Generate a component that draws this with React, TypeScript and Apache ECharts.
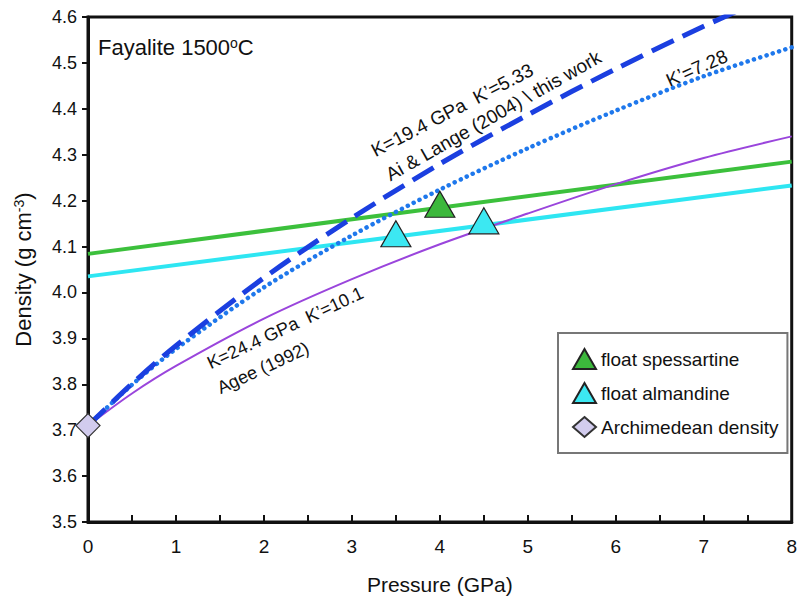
import React, { useEffect, useRef } from "react";
import * as echarts from "echarts";

// Pressure grid (GPa) for the equation-of-state curves
const curveP = [0, 0.5, 1, 2, 3, 4, 5, 6, 7, 8];
// K=19.4 GPa K'=5.33 (Ai & Lange 2004 / this work) - dashed
const aiLangeRho = [3.71, 3.801, 3.884, 4.032, 4.162, 4.28, 4.387, 4.487, 4.58, 4.665];
// K'=7.28 - dotted
const kp728Rho = [3.71, 3.799, 3.877, 4.011, 4.124, 4.224, 4.314, 4.396, 4.471, 4.534];
// K=24.4 GPa K'=10.1 (Agee 1992) - thin purple
const ageeRho = [3.71, 3.78, 3.84, 3.943, 4.029, 4.105, 4.172, 4.236, 4.293, 4.34];

// Garnet density lines
const lineP = [0, 8];
const spessartineRho = [4.084, 4.285];
const almandineRho = [4.035, 4.233];

// Markers
const spessartinePts = [[4.0, 4.192]];
const almandinePts = [[3.5, 4.128], [4.5, 4.156]];
const archimedeanPts = [[0, 3.71]];

const FONT = "'Liberation Sans', Arial, sans-serif";

const pair = (xs: number[], ys: number[]) => xs.map((x, i) => [x, ys[i]]);

export default function App() {
  const ref = useRef<HTMLDivElement>(null);
  useEffect(() => {
    if (!ref.current) return;
    const chart = echarts.init(ref.current, null, { renderer: "svg" });
    const rot = (deg: number) => (deg * Math.PI) / 180;
    const annText = (text: string, x: number, y: number, deg: number, size: number) => ({
      type: "text",
      x,
      y,
      rotation: rot(deg),
      style: {
        text,
        fontSize: size,
        fontFamily: FONT,
        fill: "#111",
        align: "left",
        verticalAlign: "bottom",
      },
    });
    const option: any = {
      animation: false,
      backgroundColor: "#fff",
      textStyle: { fontFamily: FONT },
      title: {
        text: "Fayalite 1500{sup|o}C",
        left: 93,
        top: 31,
        textStyle: {
          fontSize: 22,
          fontWeight: "normal",
          color: "#111",
          fontFamily: FONT,
          rich: {
            sup: { fontSize: 14, verticalAlign: "top", lineHeight: 14, padding: [0, 0, 10, 0], fontFamily: FONT, color: "#111" },
          },
        },
      },
      grid: {
        left: 88,
        right: 7,
        top: 17,
        bottom: 79,
        show: true,
        borderColor: "#111",
        borderWidth: 3,
      },
      legend: {
        orient: "vertical",
        left: 558,
        top: 333,
        data: ["float spessartine", "float almandine", "Archimedean density"],
        itemWidth: 23,
        itemHeight: 20,
        itemGap: 12,
        padding: [15, 9, 15, 14],
        borderColor: "#777",
        borderWidth: 2,
        borderRadius: 0,
        backgroundColor: "#fff",
        textStyle: { fontSize: 19, color: "#111", fontFamily: FONT },
      },
      xAxis: {
        type: "value",
        min: 0,
        max: 8,
        interval: 0.5,
        name: "Pressure (GPa)",
        nameLocation: "middle",
        nameGap: 52,
        nameTextStyle: { fontSize: 21, color: "#111", fontFamily: FONT },
        axisLine: { lineStyle: { color: "#111", width: 3 } },
        axisTick: { inside: true, length: 7, lineStyle: { color: "#111", width: 2 } },
        axisLabel: {
          formatter: (v: number) => (Number.isInteger(v) ? String(v) : ""),
          fontSize: 19,
          color: "#111",
          margin: 15,
          fontFamily: FONT,
        },
        splitLine: { show: false },
      },
      yAxis: {
        type: "value",
        min: 3.5,
        max: 4.6,
        interval: 0.1,
        name: "Density (g cm{sup|-3})",
        nameLocation: "middle",
        nameGap: 54,
        nameTextStyle: {
          fontSize: 22,
          color: "#111",
          fontFamily: FONT,
          rich: {
            sup: { fontSize: 14, verticalAlign: "top", lineHeight: 14, padding: [0, 0, 9, 0], color: "#111", fontFamily: FONT },
          },
        },
        axisLine: { lineStyle: { color: "#111", width: 3 } },
        axisTick: { inside: false, length: 6, lineStyle: { color: "#111", width: 2 } },
        axisLabel: {
          formatter: (v: number) => v.toFixed(1),
          fontSize: 18,
          color: "#111",
          margin: 11,
          fontFamily: FONT,
        },
        splitLine: { show: false },
      },
      series: [
        {
          type: "line",
          name: "spessartine line",
          data: pair(lineP, spessartineRho),
          symbol: "none",
          lineStyle: { color: "#3cc03c", width: 4 },
          z: 2,
        },
        {
          type: "line",
          name: "almandine line",
          data: pair(lineP, almandineRho),
          symbol: "none",
          lineStyle: { color: "#2ee6f2", width: 4 },
          z: 2,
        },
        {
          type: "line",
          name: "Agee (1992)",
          data: pair(curveP, ageeRho),
          symbol: "none",
          smooth: 0.3,
          lineStyle: { color: "#9a45dc", width: 2 },
          z: 3,
        },
        {
          type: "line",
          name: "K'=7.28",
          data: pair(curveP, kp728Rho),
          symbol: "none",
          smooth: 0.3,
          lineStyle: { color: "#1f78ec", width: 4.5, type: [0.1, 6.5], cap: "round" },
          z: 3,
        },
        {
          type: "line",
          name: "Ai & Lange (2004)",
          data: pair(curveP, aiLangeRho),
          symbol: "none",
          smooth: 0.3,
          lineStyle: { color: "#1b3fe0", width: 5, type: [24, 10] },
          z: 3,
        },
        {
          type: "scatter",
          name: "float spessartine",
          data: spessartinePts,
          symbol: "triangle",
          symbolSize: [30, 26],
          itemStyle: { color: "#3cb83c", borderColor: "#222", borderWidth: 1.2, opacity: 1 },
          z: 5,
        },
        {
          type: "scatter",
          name: "float almandine",
          data: almandinePts,
          symbol: "triangle",
          symbolSize: [30, 26],
          itemStyle: { color: "#3ce8f2", borderColor: "#222", borderWidth: 1.2, opacity: 1 },
          z: 5,
        },
        {
          type: "scatter",
          name: "Archimedean density",
          data: archimedeanPts,
          symbol: "diamond",
          symbolSize: [24, 24],
          itemStyle: { color: "#d2ccee", borderColor: "#333", borderWidth: 1.2, opacity: 1 },
          z: 6,
        },
      ],
      graphic: [
        annText("K=19.4 GPa  K\u2019=5.33", 377, 160, 27.5, 19),
        annText("Ai & Lange (2004) \\ this work", 392, 184, 29.5, 19),
        annText("K\u2019=7.28", 671, 90, 24, 19),
        annText("K=24.4 GPa  K\u2019=10.1", 212, 372, 25, 18),
        annText("Agee (1992)", 222, 397, 25, 18),
      ],
    };
    chart.setOption(option);
    return () => chart.dispose();
  }, []);
  return (
    <div
      ref={ref}
      style={{ position: "fixed", left: 0, top: 0, width: 800, height: 601, background: "#fff" }}
    />
  );
}
